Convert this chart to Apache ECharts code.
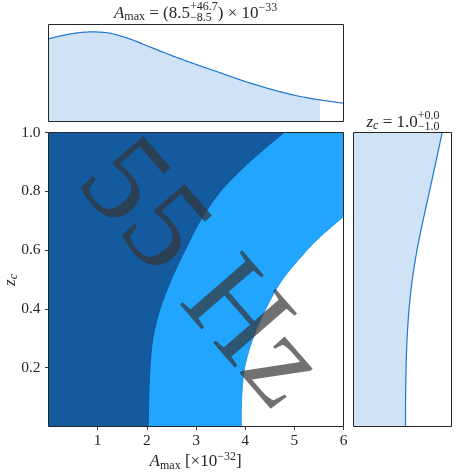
<!DOCTYPE html>
<html>
<head>
<meta charset="utf-8">
<script src="https://cdn.jsdelivr.net/npm/echarts@6/dist/echarts.min.js"></script>
<style>
html, body { margin: 0; padding: 0; background: #fff; }
#chart { width: 475px; height: 475px; }
</style>
</head>
<body>
<div id="chart"></div>
<script>
// top marginal: A_max posterior (arbitrary height units)
const topA = [0, 0.25, 0.5, 0.75, 1.0, 1.25, 1.5, 1.75, 2.0, 2.25, 2.5, 2.75, 3.0, 3.25, 3.5, 3.75, 4.0, 4.25, 4.5, 4.75, 5.0, 5.25, 5.52, 5.75, 6.0]
const topDensity = [82.7, 85.6, 88, 89.4, 89.5, 88.3, 85, 80.8, 75.8, 70.9, 66.1, 61.5, 57.1, 52.8, 48.6, 44.2, 40.0, 36.2, 32.6, 29.3, 26.3, 23.8, 21.6, 19.9, 18.3]
const topFillMax = 5.52

// right marginal: z_c posterior
const rightZ = [0, 0.1, 0.2, 0.3, 0.4, 0.5, 0.6, 0.7, 0.8, 0.9, 1.0]
const rightDensity = [52, 52.1, 52.6, 53.6, 55.6, 58.8, 63.5, 69.5, 76, 82.4, 88.7]

// 2d credible contours (inner = 1 sigma edge, outer = 2 sigma edge)
const innerA = [2.03, 2.04, 2.065, 2.125, 2.27, 2.5, 2.78, 3.09, 3.5, 4.09, 4.79]
const innerZ = [0, 0.1, 0.2, 0.3, 0.4, 0.5, 0.6, 0.7, 0.8, 0.9, 1.0]
const outerA = [3.92, 3.93, 3.99, 4.16, 4.42, 4.76, 5.26, 5.56, 6.0]
const outerZ = [0, 0.1, 0.2, 0.3, 0.4, 0.5, 0.6, 0.65, 0.714]

const xTicks = [1, 2, 3, 4, 5, 6]
const yTicks = [0.2, 0.4, 0.6, 0.8, 1.0]
const aRange = [0, 6]
const zRange = [0, 1]

const SERIF = '"Liberation Serif", "DejaVu Serif", serif'
const INK = '#262626'
const DARK = '#145a9f'
const LIGHT = '#22a5fe'
const FILL = '#d0e2f5'
const LINE = '#1f76d4'

// catmull-rom through pixel points so near-vertical edges stay smooth
function smoothPts(pts, steps) {
  const out = [pts[0]]
  for (let i = 0; i < pts.length - 1; i++) {
    const p0 = pts[i - 1] || pts[i], p1 = pts[i], p2 = pts[i + 1], p3 = pts[i + 2] || pts[i + 1]
    for (let k = 1; k <= steps; k++) {
      const t = k / steps, t2 = t * t, t3 = t2 * t
      out.push([0, 1].map(j => 0.5 * (2 * p1[j] + (p2[j] - p0[j]) * t +
        (2 * p0[j] - 5 * p1[j] + 4 * p2[j] - p3[j]) * t2 +
        (3 * p1[j] - p0[j] - 3 * p2[j] + p3[j]) * t3)))
    }
  }
  return out
}
function curve(api, xs, ys) {
  return smoothPts(xs.map((x, i) => api.coord([x, ys[i]])), 10)
}

function region(xi, yi, build, fill, stroke) {
  return {
    type: 'custom', xAxisIndex: xi, yAxisIndex: yi, data: [0], clip: true, silent: true,
    renderItem: (params, api) => {
      const g = build(api)
      const children = [{ type: 'polygon', shape: { points: g.poly }, style: { fill: fill, stroke: null } }]
      if (stroke) {
        children.push({ type: 'polyline', shape: { points: g.line }, style: { stroke: stroke[0], lineWidth: stroke[1], fill: null } })
      }
      return { type: 'group', children: children }
    }
  }
}

// math-ish labels: fragments on a shared baseline, centred on cx
const measureCtx = document.createElement('canvas').getContext('2d')
function textWidth(str, size, italic) {
  measureCtx.font = (italic ? 'italic ' : '') + size + 'px ' + SERIF
  return measureCtx.measureText(str).width
}
function frag(str, x, dy, size, italic) {
  return {
    type: 'text', x: x, y: dy - 0.305 * size,
    style: {
      text: str, fill: INK, fontSize: size, fontFamily: SERIF,
      fontStyle: italic ? 'italic' : 'normal',
      align: 'left', verticalAlign: 'middle'
    }
  }
}
function mathLabel(cx, baseY, parts, rotation) {
  const base = 17
  let x = 0
  const children = []
  for (const p of parts) {
    const s = p.s || base
    if (p.sup !== undefined) {
      const w = Math.max(textWidth(p.sup, s), textWidth(p.sub, s))
      children.push(frag(p.sup, x, p.supDy, s, false))
      children.push(frag(p.sub, x, p.subDy, s, false))
      x += w
    } else {
      children.push(frag(p.t, x, p.dy || 0, s, p.i))
      x += textWidth(p.t, s, p.i)
    }
  }
  children.forEach(c => { c.x -= x / 2 })
  return { type: 'group', x: cx, y: baseY, rotation: rotation || 0, z: 100, children: children }
}

const chart = echarts.init(document.getElementById('chart'))

const frame = { show: true, borderColor: INK, borderWidth: 1, backgroundColor: 'rgba(0,0,0,0)', z: 10 }
const hiddenAxis = { axisLine: { show: false }, axisTick: { show: false }, axisLabel: { show: false }, splitLine: { show: false } }

chart.setOption({
  animation: false,
  grid: [
    Object.assign({ left: 48.5, top: 24.5, width: 295, height: 97 }, frame),
    Object.assign({ left: 48.5, top: 132.5, width: 295, height: 294 }, frame),
    Object.assign({ left: 353.5, top: 132.5, width: 98, height: 294 }, frame)
  ],
  xAxis: [
    Object.assign({ type: 'value', gridIndex: 0, min: aRange[0], max: aRange[1] }, hiddenAxis),
    {
      type: 'value', gridIndex: 1, min: aRange[0], max: aRange[1],
      axisLine: { show: false },
      splitLine: { show: false },
      axisTick: { show: true, inside: false, length: 3.5, customValues: xTicks, lineStyle: { color: INK, width: 0.9 } },
      axisLabel: { customValues: xTicks, margin: 6, fontFamily: SERIF, fontSize: 15.5, color: INK }
    },
    Object.assign({ type: 'value', gridIndex: 2, min: 0, max: 98 }, hiddenAxis)
  ],
  yAxis: [
    Object.assign({ type: 'value', gridIndex: 0, min: 0, max: 97 }, hiddenAxis),
    {
      type: 'value', gridIndex: 1, min: zRange[0], max: zRange[1],
      axisLine: { show: false },
      splitLine: { show: false },
      axisTick: { show: true, inside: false, length: 3.5, customValues: yTicks, lineStyle: { color: INK, width: 0.9 } },
      axisLabel: { customValues: yTicks, margin: 8, fontFamily: SERIF, fontSize: 15.5, color: INK, formatter: v => v.toFixed(1) }
    },
    Object.assign({ type: 'value', gridIndex: 2, min: zRange[0], max: zRange[1] }, hiddenAxis)
  ],
  series: [
    // whole panel starts inside the 1 sigma region
    region(1, 1, api => ({
      poly: [api.coord([aRange[0], zRange[0]]), api.coord([aRange[0], zRange[1]]),
             api.coord([aRange[1], zRange[1]]), api.coord([aRange[1], zRange[0]])]
    }), DARK),
    region(1, 1, api => {
      const c = curve(api, innerA, innerZ)
      return { line: c, poly: c.concat([api.coord([aRange[1], zRange[1]]), api.coord([aRange[1], zRange[0]])]) }
    }, LIGHT, ['#124f8c', 0.8]),
    region(1, 1, api => {
      const c = curve(api, outerA, outerZ)
      return { line: c, poly: c.concat([api.coord([aRange[1], zRange[0]])]) }
    }, '#ffffff', ['#1b8ee0', 0.8]),
    // top marginal, shaded up to the upper bound
    region(0, 0, api => {
      const c = curve(api, topA, topDensity)
      const xEnd = api.coord([topFillMax, 0])[0] + 0.01
      const inside = c.filter(p => p[0] <= xEnd)
      return {
        line: c,
        poly: inside.concat([[inside[inside.length - 1][0], api.coord([0, 0])[1]], api.coord([0, 0])])
      }
    }, FILL, [LINE, 1.2]),
    // right marginal, shaded left of the curve
    region(2, 2, api => {
      const c = curve(api, rightDensity, rightZ)
      return { line: c, poly: c.concat([api.coord([0, zRange[1]]), api.coord([0, zRange[0]])]) }
    }, FILL, [LINE, 1.2])
  ],
  graphic: [
    mathLabel(195.6, 18.5, [
      { t: 'A', i: true }, { t: 'max', s: 12, dy: 2.5 }, { t: ' = (8.5' },
      { sup: '+46.7', sub: '−8.5', s: 12, supDy: -7.5, subDy: 3.5 },
      { t: ') × 10' }, { t: '−33', s: 12, dy: -6.5 }
    ]),
    mathLabel(403, 127.3, [
      { t: 'z', i: true }, { t: 'c', s: 12, dy: 2.5, i: true }, { t: ' = 1.0' },
      { sup: '+0.0', sub: '−1.0', s: 12, supDy: -8, subDy: 3 }
    ]),
    mathLabel(195.6, 467, [
      { t: 'A', i: true }, { t: 'max', s: 12, dy: 2.5 }, { t: ' [×10' },
      { t: '−32', s: 12, dy: -6.5 }, { t: ']' }
    ]),
    mathLabel(15.5, 280, [
      { t: 'z', i: true }, { t: 'c', s: 12, dy: 2.5, i: true }
    ], Math.PI / 2),
    {
      type: 'text', x: 199, y: 276, rotation: -0.855, z: 100,
      style: {
        text: '55 Hz', fontSize: 126, fontFamily: SERIF,
        fill: 'rgba(53,53,53,0.7)', align: 'center', verticalAlign: 'middle'
      }
    }
  ]
})
</script>
</body>
</html>
